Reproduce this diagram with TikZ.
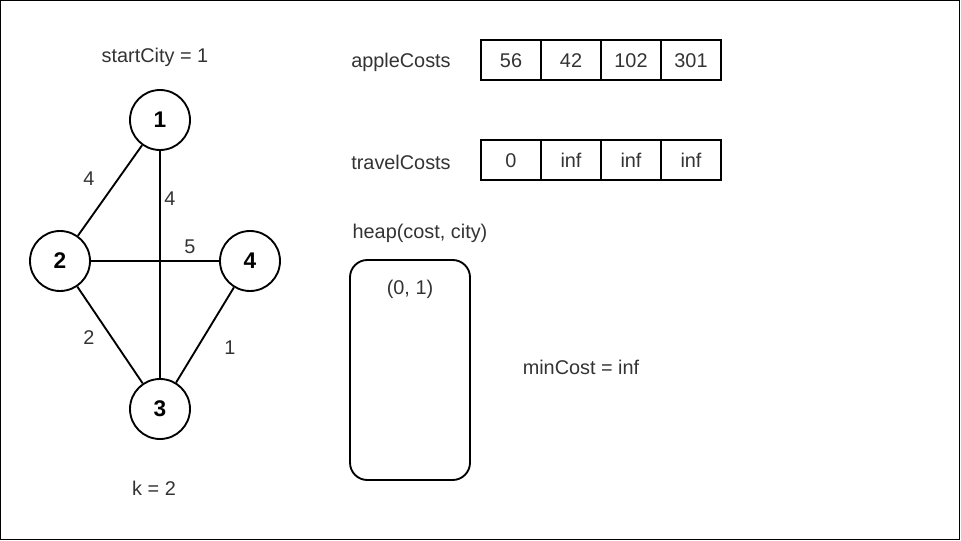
\documentclass[tikz,border=0pt]{standalone}
\usepackage{fontspec}
\setmainfont{Liberation Sans}
\definecolor{txt}{HTML}{333333}
\begin{document}
\begin{tikzpicture}[x=0.75pt, y=-0.75pt,
    city/.style={circle, draw, line width=1.4pt, minimum size=45pt, inner sep=0pt,
        font=\fontsize{17}{20}\selectfont\bfseries},
    road/.style={line width=1.4pt},
    lbl/.style={text=txt, font=\fontsize{14.9}{17}\selectfont},
    cell/.style={lbl, draw, line width=1.4pt, minimum width=45pt, minimum height=30pt, inner sep=0pt,
        text height=10.6pt, text depth=0pt},
    heapbox/.style={draw, line width=1.4pt, rounded corners=13pt, minimum width=90pt, minimum height=165pt}]

    \useasboundingbox (0,0) rectangle (961,541);
    \draw[line width=0.75pt] (0.5,0.5) rectangle (959.5,539.5);

    % cities
    \node[city] (c1) at (160,120) {1};
    \node[city] (c2) at (60,261) {2};
    \node[city] (c4) at (250,261) {4};
    \node[city] (c3) at (160,409) {3};

    \draw[road] (c1) -- (c2);
    \draw[road] (c1) -- (c3);
    \draw[road] (c2) -- (c4);
    \draw[road] (c2) -- (c3);
    \draw[road] (c4) -- (c3);

    % weights
    \node[lbl] (w12) at (89,179) {4};
    \node[lbl] (w13) at (170,199) {4};
    \node[lbl] (w24) at (190,247) {5};
    \node[lbl] (w23) at (89,338) {2};
    \node[lbl] (w43) at (230,348) {1};

    \node[lbl] (start) at (155,57) {startCity = 1};
    \node[lbl] (k) at (154,488) {k = 2};

    % arrays
    \node[lbl] (apple) at (401,62) {appleCosts};
    \foreach \v [count=\i] in {56,42,102,301}
        \node[cell] (a\i) at (451+60*\i,60) {\v};

    \node[lbl] (travel) at (401,162) {travelCosts};
    \foreach \v [count=\i] in {0,inf,inf,inf}
        \node[cell] (t\i) at (451+60*\i,160) {\v};

    % heap
    \node[lbl] (heaplbl) at (420,233) {heap(cost, city)};
    \node[heapbox] (heap) at (410,370) {};
    \node[lbl] (top) at (410,289) {(0, 1)};

    \node[lbl] (mincost) at (581,367) {minCost = inf};

\end{tikzpicture}
\end{document}
